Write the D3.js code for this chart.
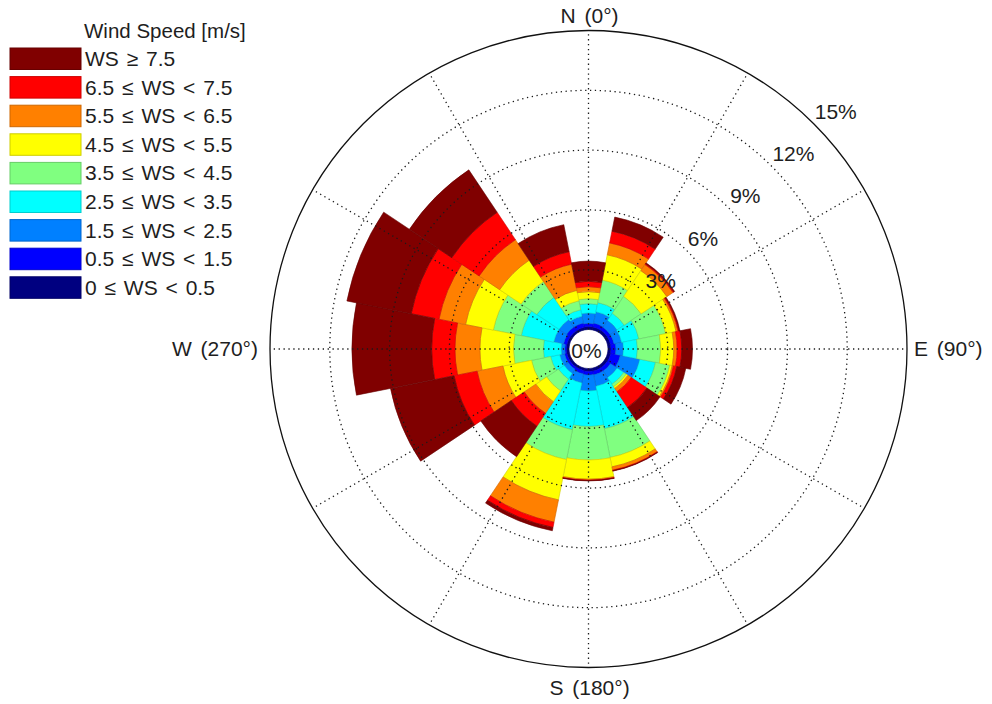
<!DOCTYPE html>
<html>
<head>
<meta charset="utf-8">
<script src="https://cdn.jsdelivr.net/npm/d3@7"></script>
<style>
  html, body { margin: 0; padding: 0; background: #fff; }
  svg { display: block; font-family: "Liberation Sans", Arial, Helvetica, sans-serif; }
</style>
</head>
<body>
<svg id="chart" width="992" height="704"></svg>
<script>
// Direction sectors (degrees clockwise from north)
const directions = [0, 22.5, 45, 67.5, 90, 112.5, 135, 157.5, 180, 202.5, 225, 247.5, 270, 292.5, 315, 337.5];

// Frequency (%) per direction for each wind-speed class
const ws_0_05   = [0.15, 0.15, 0.15, 0.15, 0.15, 0.16, 0.15, 0.15, 0.15, 0.13, 0.13, 0.13, 0.13, 0.13, 0.13, 0.13];
const ws_05_15  = [0.16, 0.20, 0.18, 0.18, 0.25, 0.49, 0.20, 0.20, 0.18, 0.17, 0.12, 0.12, 0.08, 0.17, 0.22, 0.22];
const ws_15_25  = [0.52, 0.58, 0.42, 0.39, 0.38, 1.00, 0.40, 0.58, 0.80, 0.46, 0.25, 0.25, 0.19, 0.50, 0.45, 0.35];
const ws_25_35  = [0.47, 0.47, 0.43, 0.88, 0.70, 0.80, 0.40, 2.17, 1.78, 2.39, 0.34, 0.46, 0.89, 1.66, 1.34, 0.33];
const ws_35_45  = [0.25, 1.15, 1.02, 1.37, 1.17, 0.73, 0.15, 1.47, 1.68, 1.53, 0.71, 0.98, 1.50, 1.43, 0.95, 0.46];
const ws_45_55  = [0.35, 1.29, 1.55, 0.53, 0.65, 0.12, 0.10, 0.48, 0.96, 2.06, 0.65, 1.46, 1.68, 1.42, 1.29, 0.53];
const ws_55_65  = [0.25, 0.61, 0.37, 0.10, 0.17, 0.07, 0.20, 0.17, 0.05, 1.14, 0.70, 1.32, 1.25, 1.36, 1.24, 1.34];
const ws_65_75  = [0.27, 0.60, 0.05, 0.05, 0.23, 0.17, 0.95, 0.03, 0.02, 0.27, 0.78, 1.18, 1.17, 1.42, 1.65, 0.64];
const ws_75_up  = [1.01, 0.72, 0.05, 0.05, 0.54, 0.46, 0.79, 0.02, 0.02, 0.17, 1.84, 3.25, 4.00, 3.29, 2.56, 1.38];

const speedLabels = ["0 \u2264 WS < 0.5", "0.5 \u2264 WS < 1.5", "1.5 \u2264 WS < 2.5", "2.5 \u2264 WS < 3.5",
                     "3.5 \u2264 WS < 4.5", "4.5 \u2264 WS < 5.5", "5.5 \u2264 WS < 6.5", "6.5 \u2264 WS < 7.5",
                     "WS \u2265 7.5"];
const speedColors = ["#000080", "#0000ff", "#0080ff", "#00ffff", "#80ff80", "#ffff00", "#ff8000", "#ff0000", "#800000"];

const ringTicks = [3, 6, 9, 12, 15];
const spokeAngles = [0, 30, 60, 90, 120, 150, 180, 210, 240, 270, 300, 330];
const compassLabels = [
  { angle: 0,   text: "N (0\u00b0)" },
  { angle: 90,  text: "E (90\u00b0)" },
  { angle: 180, text: "S (180\u00b0)" },
  { angle: 270, text: "W (270\u00b0)" }
];

const speedSeries = [ws_0_05, ws_05_15, ws_15_25, ws_25_35, ws_35_45, ws_45_55, ws_55_65, ws_65_75, ws_75_up];

// ---- layout ----
const cx = 588.5, cy = 349;
const rInner = 19.5, rOuter = 318.5;
const textColor = "#1e1e1e";
const fontSize = 21;

const svg = d3.select("#chart");
const r = d3.scaleLinear().domain([0, 15]).range([rInner, rOuter]);
const rad = deg => deg * Math.PI / 180;
const halfSector = rad(360 / directions.length / 2);

// Stack the speed classes outward for each direction
const keys = speedLabels.map((_, i) => "k" + i);
const rows = directions.map((dir, i) => {
  const row = { dir };
  keys.forEach((k, j) => { row[k] = speedSeries[j][i]; });
  return row;
});
const layers = d3.stack().keys(keys)(rows);

const plot = svg.append("g").attr("transform", `translate(${cx},${cy})`);
const arc = d3.arc();

plot.append("g").selectAll("g")
  .data(layers)
  .join("g")
  .attr("fill", (d, j) => speedColors[j])
  .attr("stroke", (d, j) => d3.rgb(speedColors[j]).darker(0.6))
  .attr("stroke-width", 0.6)
  .selectAll("path")
  .data(d => d)
  .join("path")
  .attr("d", d => arc({
    innerRadius: r(d[0]),
    outerRadius: r(d[1]),
    startAngle: rad(d.data.dir) - halfSector,
    endAngle: rad(d.data.dir) + halfSector
  }));

// Grid: dotted rings and spokes
const grid = plot.append("g").attr("fill", "none").attr("stroke", "#1a1a1a");
grid.selectAll("circle.ring")
  .data(ringTicks.filter(t => t < 15))
  .join("circle")
  .attr("class", "ring")
  .attr("r", d => r(d))
  .attr("stroke-width", 1.3)
  .attr("stroke-dasharray", "1.3 3.6");

grid.selectAll("line.spoke")
  .data(spokeAngles)
  .join("line")
  .attr("class", "spoke")
  .attr("x1", a => r(0) * Math.sin(rad(a)))
  .attr("y1", a => -r(0) * Math.cos(rad(a)))
  .attr("x2", a => r(15) * Math.sin(rad(a)))
  .attr("y2", a => -r(15) * Math.cos(rad(a)))
  .attr("stroke-width", 1.3)
  .attr("stroke-dasharray", "1.3 3.6");

// Outer boundary
plot.append("circle")
  .attr("r", r(15))
  .attr("fill", "none")
  .attr("stroke", "#111")
  .attr("stroke-width", 1.3);

// Ring labels along the 45° direction
plot.append("g").selectAll("text")
  .data(ringTicks)
  .join("text")
  .attr("x", t => r(t) * Math.sin(rad(45)) + 1)
  .attr("y", t => -r(t) * Math.cos(rad(45)) - 5)
  .attr("fill", textColor)
  .attr("font-size", fontSize)
  .text(t => t + "%");

plot.append("text")
  .attr("x", -2)
  .attr("y", 1)
  .attr("text-anchor", "middle")
  .attr("dominant-baseline", "central")
  .attr("fill", textColor)
  .attr("font-size", fontSize)
  .text("0%");

// Compass labels
plot.append("g").selectAll("text")
  .data(compassLabels)
  .join("text")
  .attr("fill", textColor)
  .attr("font-size", fontSize)
  .attr("word-spacing", 3)
  .attr("text-anchor", d => d.angle === 90 ? "start" : d.angle === 270 ? "end" : "middle")
  .attr("x", d => d.angle === 90 ? r(15) + 7 : d.angle === 270 ? -r(15) - 12 : 1)
  .attr("y", d => d.angle === 0 ? -r(15) - 8 : d.angle === 180 ? r(15) + 27 : 7)
  .text(d => d.text);

// Legend (highest class on top)
const legend = svg.append("g").attr("transform", "translate(10,48)");
legend.append("text")
  .attr("x", 74)
  .attr("y", -10)
  .attr("fill", textColor)
  .attr("font-size", 20.5)
  .text("Wind Speed [m/s]");

const order = d3.range(speedLabels.length).reverse();
const item = legend.selectAll("g.item")
  .data(order)
  .join("g")
  .attr("class", "item")
  .attr("transform", (d, i) => `translate(0,${i * 28.6})`);
item.append("rect")
  .attr("width", 71)
  .attr("height", 21.5)
  .attr("fill", d => speedColors[d])
  .attr("stroke", d => d3.rgb(speedColors[d]).darker(0.6))
  .attr("stroke-width", 1);
item.append("text")
  .attr("x", 75)
  .attr("y", 18)
  .attr("fill", textColor)
  .attr("font-size", fontSize)
  .attr("word-spacing", 2)
  .text(d => speedLabels[d]);
</script>
</body>
</html>
